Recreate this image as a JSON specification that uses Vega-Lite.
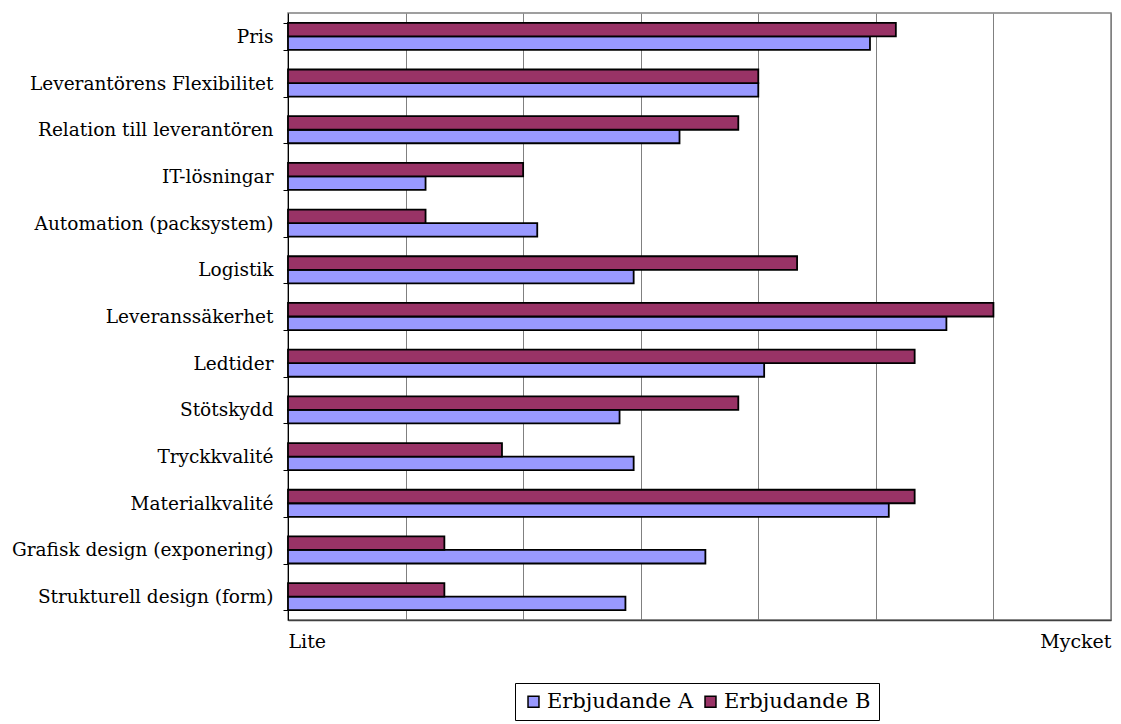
{
  "$schema": "https://vega.github.io/schema/vega-lite/v6.json",
  "width": 823,
  "height": 607,
  "autosize": {"type": "none"},
  "padding": {"left": 288, "top": 13, "right": 10, "bottom": 104},
  "background": "white",
  "config": {
    "font": "DejaVu Serif",
    "view": {"stroke": "#808080", "strokeWidth": 1.5}
  },
  "data": {
    "values": [
      {"kategori": "Pris", "serie": "Erbjudande A", "varde": 4.95},
      {"kategori": "Pris", "serie": "Erbjudande B", "varde": 5.17},
      {"kategori": "Leverantörens Flexibilitet", "serie": "Erbjudande A", "varde": 4.0},
      {"kategori": "Leverantörens Flexibilitet", "serie": "Erbjudande B", "varde": 4.0},
      {"kategori": "Relation till leverantören", "serie": "Erbjudande A", "varde": 3.33},
      {"kategori": "Relation till leverantören", "serie": "Erbjudande B", "varde": 3.83},
      {"kategori": "IT-lösningar", "serie": "Erbjudande A", "varde": 1.17},
      {"kategori": "IT-lösningar", "serie": "Erbjudande B", "varde": 2.0},
      {"kategori": "Automation (packsystem)", "serie": "Erbjudande A", "varde": 2.12},
      {"kategori": "Automation (packsystem)", "serie": "Erbjudande B", "varde": 1.17},
      {"kategori": "Logistik", "serie": "Erbjudande A", "varde": 2.94},
      {"kategori": "Logistik", "serie": "Erbjudande B", "varde": 4.33},
      {"kategori": "Leveranssäkerhet", "serie": "Erbjudande A", "varde": 5.6},
      {"kategori": "Leveranssäkerhet", "serie": "Erbjudande B", "varde": 6.0},
      {"kategori": "Ledtider", "serie": "Erbjudande A", "varde": 4.05},
      {"kategori": "Ledtider", "serie": "Erbjudande B", "varde": 5.33},
      {"kategori": "Stötskydd", "serie": "Erbjudande A", "varde": 2.82},
      {"kategori": "Stötskydd", "serie": "Erbjudande B", "varde": 3.83},
      {"kategori": "Tryckkvalité", "serie": "Erbjudande A", "varde": 2.94},
      {"kategori": "Tryckkvalité", "serie": "Erbjudande B", "varde": 1.82},
      {"kategori": "Materialkvalité", "serie": "Erbjudande A", "varde": 5.11},
      {"kategori": "Materialkvalité", "serie": "Erbjudande B", "varde": 5.33},
      {"kategori": "Grafisk design (exponering)", "serie": "Erbjudande A", "varde": 3.55},
      {"kategori": "Grafisk design (exponering)", "serie": "Erbjudande B", "varde": 1.33},
      {"kategori": "Strukturell design (form)", "serie": "Erbjudande A", "varde": 2.87},
      {"kategori": "Strukturell design (form)", "serie": "Erbjudande B", "varde": 1.33}
    ]
  },
  "mark": {"type": "bar", "stroke": "black", "strokeWidth": 1.8},
  "encoding": {
    "y": {
      "field": "kategori",
      "type": "nominal",
      "sort": null,
      "scale": {"paddingInner": 0.42, "paddingOuter": 0.21},
      "axis": {
        "title": null,
        "labelFont": "DejaVu Serif",
        "labelFontSize": 18.5,
        "labelColor": "black",
        "labelPadding": 10,
        "labelLimit": 300,
        "tickBand": "extent",
        "tickSize": 5,
        "tickColor": "#000000",
        "domainColor": "#000000",
        "grid": false
      }
    },
    "yOffset": {
      "field": "serie",
      "type": "nominal",
      "sort": ["Erbjudande B", "Erbjudande A"]
    },
    "x": {
      "field": "varde",
      "type": "quantitative",
      "scale": {"domain": [0, 7], "nice": false},
      "axis": {
        "title": null,
        "values": [0, 1, 2, 3, 4, 5, 6, 7],
        "labelExpr": "datum.value == 0 ? 'Lite' : datum.value == 7 ? 'Mycket' : ''",
        "labelFlush": true,
        "labelFont": "DejaVu Serif",
        "labelFontSize": 19,
        "labelColor": "black",
        "labelPadding": 12,
        "ticks": false,
        "grid": true,
        "gridColor": "#808080",
        "gridWidth": 1,
        "domainColor": "#404040",
        "domainWidth": 1.5
      }
    },
    "color": {
      "field": "serie",
      "type": "nominal",
      "scale": {"domain": ["Erbjudande A", "Erbjudande B"], "range": ["#9999FF", "#993366"]},
      "legend": {
        "title": null,
        "orient": "none",
        "direction": "horizontal",
        "legendX": 227,
        "legendY": 670,
        "strokeColor": "black",
        "padding": 8,
        "symbolType": "square",
        "symbolSize": 120,
        "symbolStrokeColor": "black",
        "symbolStrokeWidth": 1.5,
        "symbolOpacity": 1,
        "labelFont": "DejaVu Serif",
        "labelFontSize": 21,
        "labelColor": "black",
        "labelOffset": 3,
        "labelLimit": 300,
        "columnPadding": 6
      }
    }
  }
}
